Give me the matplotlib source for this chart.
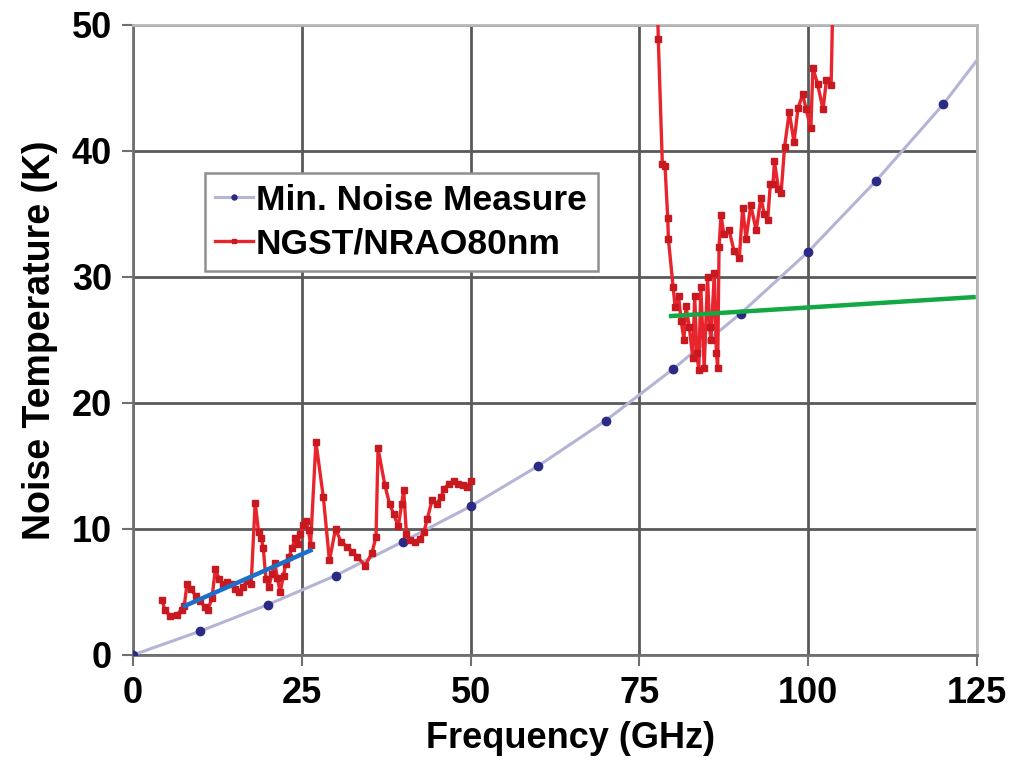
import numpy as np
import matplotlib.pyplot as plt

plt.rcParams['font.family'] = ['Liberation Sans', 'DejaVu Sans']
plt.rcParams['font.weight'] = 'bold'

# min noise measure curve (GHz, K)
mn_freq = [0, 10, 20, 30, 40, 50, 60, 70, 80, 90, 100, 110, 120, 125]
mn_temp = [0, 1.9, 4.0, 6.3, 9.0, 11.8, 15.0, 18.6, 22.7, 27.1, 32.0, 37.6, 43.7, 47.2]

# NGST/NRAO 80nm measured, low band
lo_freq = [4.3, 4.7, 5.5, 6.5, 7.2, 7.6, 8.0, 8.6, 9.3, 10.0, 10.6, 11.1, 11.7, 12.2,
           12.8, 13.4, 14.0, 14.6, 15.1, 15.7, 16.3, 16.9, 17.5, 18.1, 18.6, 19.0,
           19.3, 19.7, 20.1, 20.6, 21.0, 21.4, 21.8, 22.3, 22.6, 23.1, 23.6, 24.0,
           24.4, 24.8, 25.2, 25.6, 26.0, 26.3, 27.1, 28.2, 29.1, 30.0, 30.8, 31.7,
           32.5, 33.2, 34.4, 35.4, 36.0, 36.3, 37.3, 38.0, 38.6, 39.3, 39.8, 40.1,
           40.5, 41.0, 41.8, 42.5, 43.1, 43.6, 44.3, 45.0, 45.6, 46.1, 46.8, 47.5,
           48.2, 48.9, 49.5, 50.0]
lo_temp = [4.4, 3.6, 3.1, 3.2, 3.6, 3.9, 5.6, 5.2, 4.7, 4.3, 3.8, 3.6, 4.5, 6.8,
           6.0, 5.6, 5.8, 5.6, 5.2, 5.0, 5.4, 5.9, 5.6, 12.1, 9.8, 9.3,
           8.5, 6.0, 5.4, 6.4, 7.3, 6.1, 5.0, 6.3, 7.2, 7.8, 8.5, 9.3,
           8.8, 9.6, 10.3, 10.6, 9.9, 8.7, 16.9, 12.5, 7.5, 10.0, 9.0, 8.6,
           8.2, 7.8, 7.1, 8.1, 9.4, 16.4, 13.5, 12.0, 11.2, 10.2, 12.0, 13.1,
           9.6, 9.1, 9.0, 9.2, 9.8, 10.8, 12.3, 12.0, 12.5, 13.2, 13.6, 13.8,
           13.6, 13.5, 13.3, 13.8]

# high band
hi_freq = [77.5, 77.8, 78.4, 78.8, 79.2, 79.3, 80.0, 80.3, 80.8, 81.2, 81.6, 81.9,
           82.4, 82.9, 83.2, 83.5, 83.8, 84.1, 84.6, 85.1, 85.4, 85.6, 86.1, 86.4,
           86.6, 86.8, 87.1, 87.5, 88.3, 89.0, 89.8, 90.3, 90.8, 91.5, 92.3, 93.0,
           93.5, 94.0, 94.4, 94.8, 95.0, 95.6, 96.0, 96.5, 97.2, 97.9, 98.5, 99.2,
           99.7, 100.4, 100.7, 101.4, 102.2, 102.7, 103.4, 103.8]
hi_temp = [56, 48.9, 39.0, 38.8, 34.7, 33.0, 29.2, 27.6, 28.5, 26.5, 25.0, 27.7,
           26.0, 23.6, 28.5, 24.0, 22.6, 29.2, 22.8, 30.0, 26.0, 25.0, 30.3, 24.0,
           22.8, 32.4, 34.9, 33.4, 33.7, 32.1, 31.5, 35.5, 33.0, 35.7, 33.7, 36.3,
           35.0, 34.5, 37.4, 37.4, 39.2, 37.0, 36.7, 40.3, 43.1, 40.7, 43.4, 44.5,
           43.3, 41.8, 46.6, 45.3, 43.3, 45.6, 45.2, 56]

# hand drawn trend lines
fit1_freq = [7.7, 26.3]
fit1_temp = [3.9, 8.3]
fit2_freq = [79.7, 124.5]
fit2_temp = [26.9, 28.4]

fig = plt.figure(figsize=(10.18, 7.61), dpi=100)
ax = fig.add_axes([0.1306, 0.1393, 0.8291, 0.8279])

red_f = lo_freq + [np.nan] + hi_freq
red_t = lo_temp + [np.nan] + hi_temp

ax.plot(mn_freq, mn_temp, color='#b4b4d6', lw=2.2, marker='o', ms=6,
        mfc='#2b2b86', mec='#2b2b86', markevery=list(range(len(mn_freq) - 1)),
        label='Min. Noise Measure', zorder=3)
ax.plot(red_f, red_t, color='#e8242c', lw=2.4, marker='s', ms=4.5,
        mfc='#c81820', mec='#c81820', label='NGST/NRAO80nm', zorder=4)
ax.plot(fit1_freq, fit1_temp, color='#1a70c8', lw=3.2, zorder=5)
ax.plot(fit2_freq, fit2_temp, color='#14a844', lw=3.2, zorder=5)

ax.set_xlim(0, 125)
ax.set_ylim(0, 50)
ax.set_xticks([0, 25, 50, 75, 100, 125])
ax.set_yticks([0, 10, 20, 30, 40, 50])
ax.grid(True, color='#5a5a5a', lw=2)
ax.set_axisbelow(True)
for s in ['top', 'right']:
    ax.spines[s].set_color('#b8b8b8')
    ax.spines[s].set_linewidth(2)
for s in ['left', 'bottom']:
    ax.spines[s].set_color('#707070')
    ax.spines[s].set_linewidth(2)
ax.tick_params(axis='both', labelsize=26, length=8, width=1.5, color='#707070', pad=7)

ax.set_xlabel('Frequency (GHz)', fontsize=26, fontweight='bold')
ax.xaxis.set_label_coords(0.518, -0.104)
ax.set_ylabel('Noise Temperature (K)', fontsize=27, fontweight='bold', labelpad=10)

leg = ax.legend(loc='upper left', bbox_to_anchor=(0.085, 0.765), borderaxespad=0,
                fontsize=25.5, frameon=True, fancybox=False, edgecolor='#909090',
                framealpha=1, handlelength=1.05, handletextpad=0.1, borderpad=0.3,
                labelspacing=0.3, markerscale=0.6)
leg.get_frame().set_linewidth(1.8)

fig.savefig('out.png', dpi=100)
